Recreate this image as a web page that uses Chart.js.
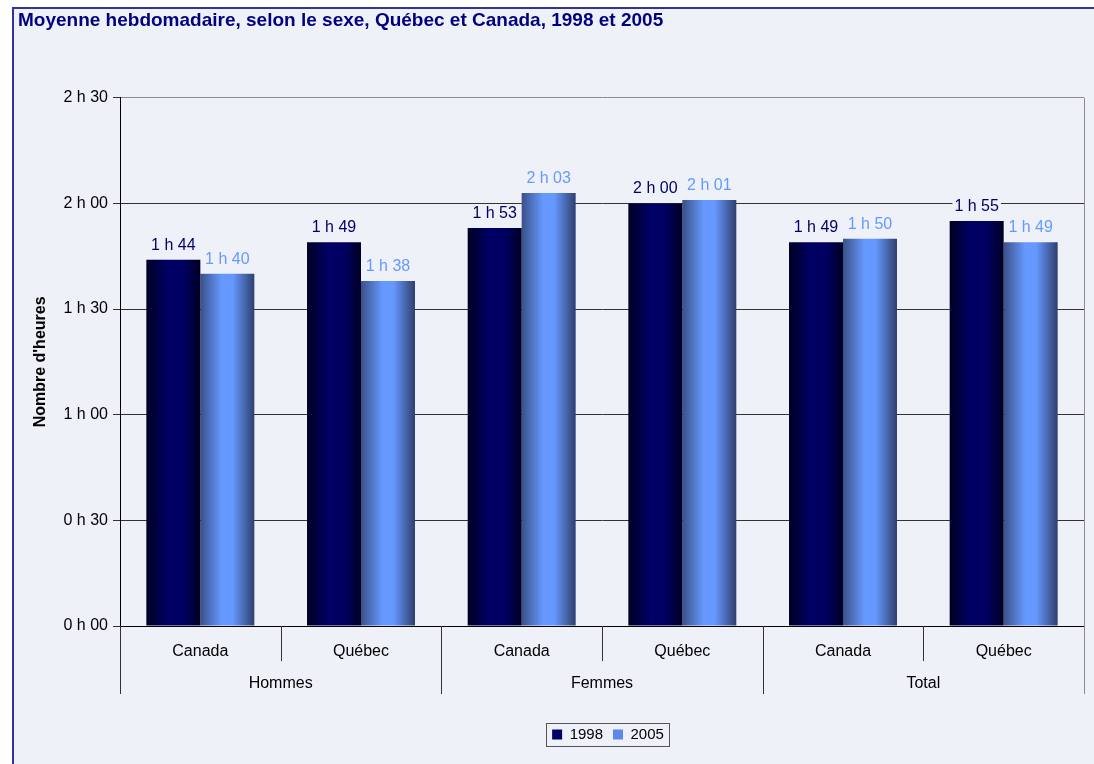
<!DOCTYPE html>
<html>
<head>
<meta charset="utf-8">
<script src="https://cdn.jsdelivr.net/npm/chart.js@4"></script>
<style>
html, body { margin: 0; padding: 0; background: #fff; width: 1094px; height: 764px; overflow: hidden; }
#cadre { position: absolute; left: 12px; top: 7px; width: 1100px; height: 800px; border-top: 2px solid #333399; border-left: 2px solid #333399; background: #EEF1F8; }
#graphique { position: absolute; left: 0; top: 0; }
</style>
</head>
<body>
<div id="cadre"></div>
<canvas id="graphique" width="1094" height="764"></canvas>
<script>
// Données (en minutes)
const groupes = ['Hommes', 'Femmes', 'Total'];
const categories = ['Canada', 'Québec', 'Canada', 'Québec', 'Canada', 'Québec'];
const annees = ['1998', '2005'];
const minutes1998 = [104, 109, 113, 120, 109, 115];
const minutes2005 = [100, 98, 123, 121, 110, 109];
const ticksMinutes = [0, 30, 60, 90, 120, 150];

const couleursTexte = ['#000066', '#6699FF'];
const couleursLegende = ['#000066', '#5C88EE'];
const fond = '#EEF1F8';
const police = '"Liberation Sans", Arial, sans-serif';

function hm(v) {
    return Math.floor(v / 60) + ' h ' + String(v % 60).padStart(2, '0');
}

// Dégradé horizontal sur chaque barre
function degrade(context, serie) {
    const chart = context.chart;
    const xs = chart.scales.x;
    if (!xs || context.dataIndex === undefined) return couleursLegende[serie];
    const centre = xs.getPixelForValue(context.dataIndex);
    const w = xs.width / categories.length * 0.672 / 2;
    const gauche = serie === 0 ? centre - w : centre;
    const g = chart.ctx.createLinearGradient(gauche, 0, gauche + w, 0);
    if (serie === 0) {
        g.addColorStop(0, '#000022');
        g.addColorStop(0.4, '#000066');
        g.addColorStop(0.7, '#000060');
        g.addColorStop(1, '#000022');
    } else {
        g.addColorStop(0, '#3A5088');
        g.addColorStop(0.4, '#6699FF');
        g.addColorStop(0.6, '#6699FF');
        g.addColorStop(1, '#2E3F6E');
    }
    return g;
}

// Étiquettes de valeurs au-dessus des barres
const etiquettes = {
    id: 'etiquettes',
    afterDatasetsDraw(chart) {
        const ctx = chart.ctx;
        ctx.save();
        ctx.font = '16px ' + police;
        ctx.textAlign = 'center';
        ctx.textBaseline = 'alphabetic';
        chart.data.datasets.forEach((ds, di) => {
            chart.getDatasetMeta(di).data.forEach((el, i) => {
                const txt = hm(ds.data[i]);
                const w = ctx.measureText(txt).width;
                const y = el.y - 10;
                ctx.fillStyle = fond;
                ctx.fillRect(el.x - w / 2 - 2, y - 13, w + 4, 16);
                ctx.fillStyle = couleursTexte[di];
                ctx.fillText(txt, el.x, y);
            });
        });
        ctx.restore();
    }
};

// Séparateurs, groupes, bordure droite, cadre de légende
const decor = {
    id: 'decor',
    afterLayout(chart) {
        // centrer la légende sous la zone de traçage
        chart.legend.left += 57;
        chart.legend.right += 57;
    },
    afterDraw(chart) {
        const ctx = chart.ctx;
        const xs = chart.scales.x;
        const area = chart.chartArea;
        const catW = xs.width / categories.length;
        ctx.save();
        ctx.lineWidth = 1;
        // bordure droite
        ctx.strokeStyle = '#8C8C8C';
        ctx.beginPath();
        ctx.moveTo(area.right + 0.5, area.top);
        ctx.lineTo(area.right + 0.5, area.bottom);
        ctx.stroke();
        for (let i = 0; i <= categories.length; i++) {
            const x = Math.round(xs.left + i * catW) + 0.5;
            const long = i % 2 === 0;
            ctx.strokeStyle = i === categories.length ? '#8C8C8C' : '#333';
            ctx.beginPath();
            ctx.moveTo(x, area.bottom);
            ctx.lineTo(x, area.bottom + (long ? 68 : 35));
            ctx.stroke();
        }
        ctx.fillStyle = '#000';
        ctx.font = '16px ' + police;
        ctx.textAlign = 'center';
        ctx.textBaseline = 'middle';
        groupes.forEach((g, i) => {
            ctx.fillText(g, xs.left + (2 * i + 1) * catW, area.bottom + 58);
        });
        // cadre de la légende
        const boxes = chart.legend.legendHitBoxes;
        if (boxes && boxes.length) {
            const x0 = Math.min(...boxes.map(b => b.left)) - 6;
            const x1 = Math.max(...boxes.map(b => b.left + b.width)) + 5;
            const y0 = Math.min(...boxes.map(b => b.top)) - 4;
            const y1 = Math.max(...boxes.map(b => b.top + b.height)) + 4;
            ctx.strokeStyle = '#555';
            ctx.strokeRect(Math.round(x0) + 0.5, Math.round(y0) + 0.5, Math.round(x1 - x0), Math.round(y1 - y0));
        }
        ctx.restore();
    }
};

const ctxGraphique = document.getElementById('graphique').getContext('2d');
new Chart(ctxGraphique, {
    type: 'bar',
    data: {
        labels: categories,
        datasets: [
            { label: annees[0], data: minutes1998, backgroundColor: c => degrade(c, 0) },
            { label: annees[1], data: minutes2005, backgroundColor: c => degrade(c, 1) },
        ],
    },
    options: {
        responsive: false,
        animation: false,
        categoryPercentage: 0.672,
        barPercentage: 1.0,
        layout: { padding: { left: 18, right: 10, top: 0, bottom: 12 } },
        plugins: {
            title: {
                display: true,
                text: 'Moyenne hebdomadaire, selon le sexe, Québec et Canada, 1998 et 2005',
                align: 'start',
                color: '#000080',
                font: { family: police, size: 19, weight: 'bold' },
                padding: { top: 9, bottom: 66 },
            },
            legend: {
                position: 'bottom',
                labels: {
                    color: '#000',
                    boxWidth: 10,
                    boxHeight: 10,
                    padding: 10,
                    font: { family: police, size: 15 },
                    generateLabels: () => annees.map((a, i) => ({
                        text: a,
                        fillStyle: couleursLegende[i],
                        strokeStyle: couleursLegende[i],
                        lineWidth: 0,
                        hidden: false,
                        datasetIndex: i,
                        fontColor: '#000',
                    })),
                },
            },
            tooltip: { enabled: false },
        },
        scales: {
            x: {
                grid: { display: false, drawTicks: false },
                border: { color: '#000' },
                ticks: { color: '#000', padding: 16, font: { family: police, size: 16 } },
                afterFit: s => { s.height = 91; },
            },
            y: {
                min: 0,
                max: 150,
                afterBuildTicks: s => { s.ticks = ticksMinutes.map(v => ({ value: v })); },
                ticks: { color: '#000', padding: 5, callback: v => hm(v), font: { family: police, size: 16 } },
                grid: {
                    color: c => (c.tick && c.tick.value === 150 ? '#8C8C8C' : '#333'),
                    tickColor: '#333',
                    tickLength: 7,
                },
                border: { color: '#000' },
                title: {
                    display: true,
                    text: "Nombre d'heures",
                    color: '#000',
                    padding: { top: 13, bottom: 0 },
                    font: { family: police, size: 16, weight: 'bold' },
                },
                afterFit: s => { s.width = 102; },
            },
        },
    },
    plugins: [etiquettes, decor],
});
</script>
</body>
</html>
